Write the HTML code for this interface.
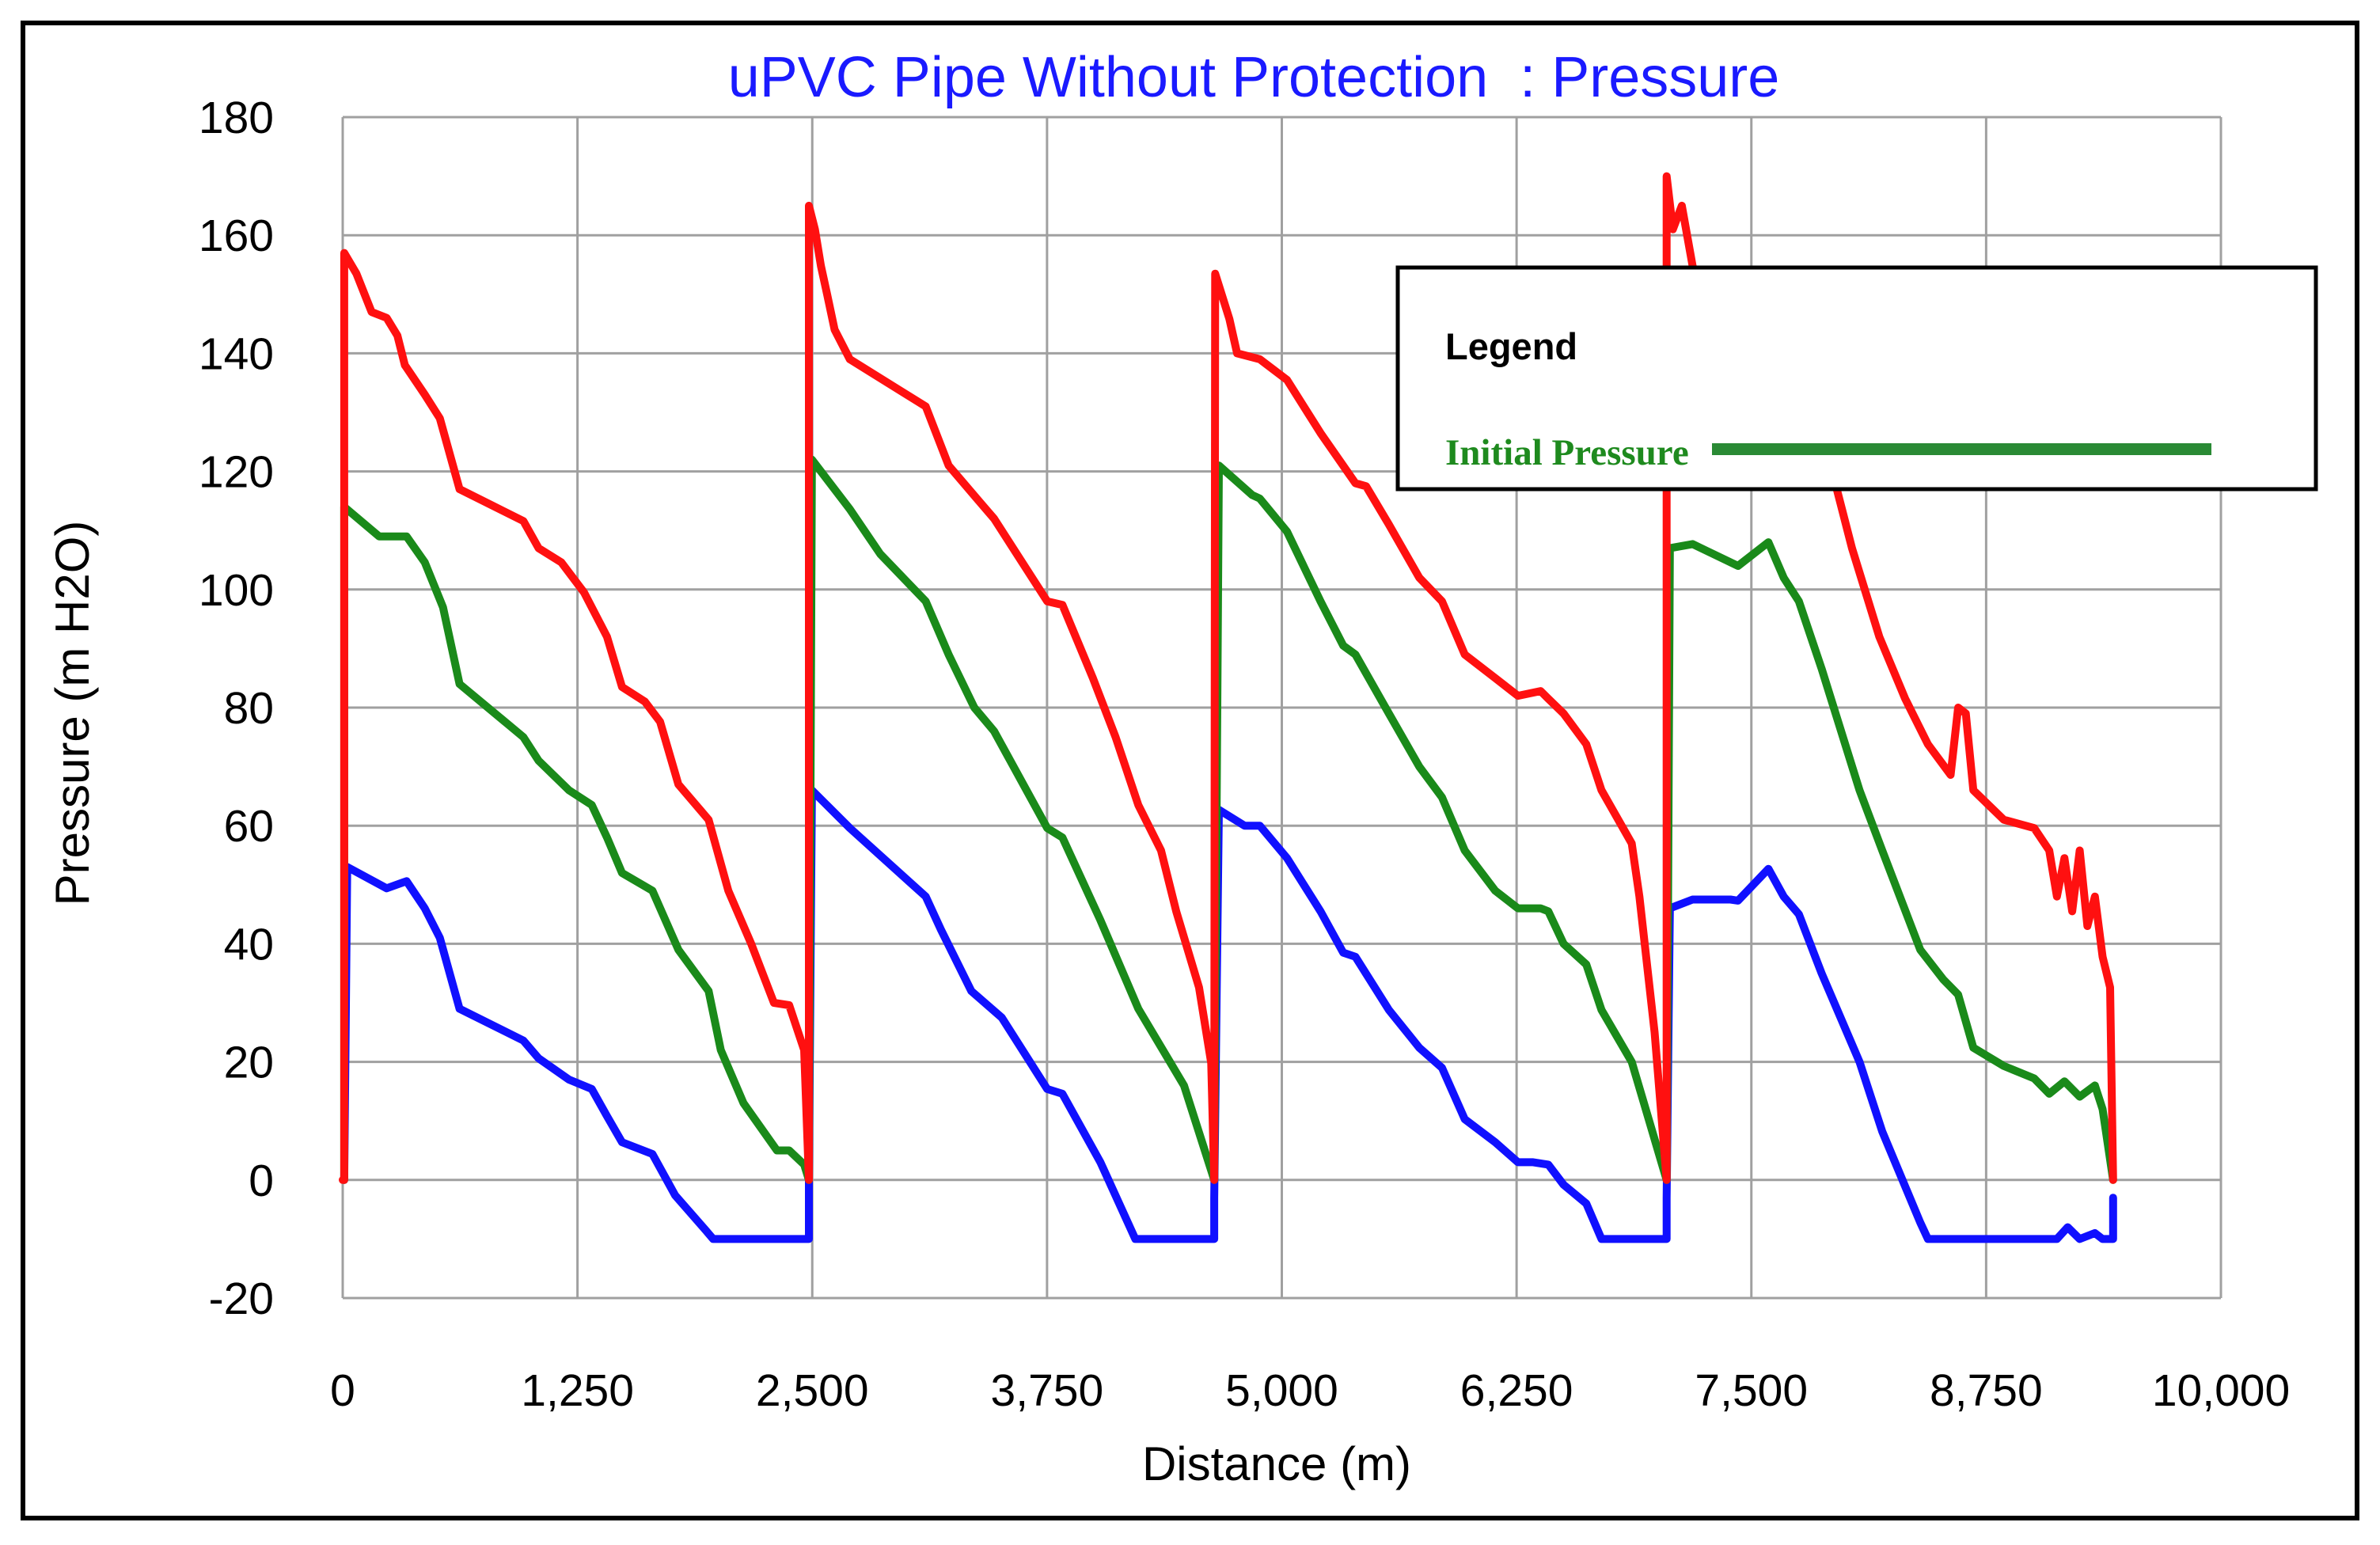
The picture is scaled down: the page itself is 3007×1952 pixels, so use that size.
<!DOCTYPE html>
<html><head><meta charset="utf-8"><style>
html,body{margin:0;padding:0;background:#fff;}
svg{display:block;}
text{font-family:"Liberation Sans",sans-serif;}
</style></head><body>
<svg id="chart" width="3007" height="1952" viewBox="0 0 3007 1952" xmlns="http://www.w3.org/2000/svg">
<rect x="29" y="29" width="2949" height="1889" fill="#fff" stroke="#000" stroke-width="6"/>
<text x="1584" y="122" text-anchor="middle" font-size="72" fill="#1a1aff" xml:space="preserve" style="white-space:pre">uPVC Pipe Without Protection  : Pressure</text>
<g id="grid"></g>
<g id="yticks"></g>
<g id="xticks"></g>
<text x="1613" y="1870" text-anchor="middle" font-size="60" fill="#000">Distance (m)</text>
<text transform="translate(112,901) rotate(-90)" text-anchor="middle" font-size="60" fill="#000">Pressure (m H2O)</text>
<g id="series"></g>
<g>
<rect x="1766" y="338" width="1160" height="280" fill="#fff" stroke="#000" stroke-width="5"/>
<text x="1826" y="454" font-size="47" font-weight="bold" fill="#000">Legend</text>
<text x="1826" y="587" font-size="47" font-weight="bold" fill="#1e8a1e" style="font-family:'Liberation Serif',serif">Initial Pressure</text>
<rect x="2163" y="560" width="631" height="15" fill="#2a8a35"/>
</g>
</svg>
<script>
const yTicks=[-20,0,20,40,60,80,100,120,140,160,180];
const xTicks=[0,1250,2500,3750,5000,6250,7500,8750,10000];
const xTickLabels=["0","1,250","2,500","3,750","5,000","6,250","7,500","8,750","10,000"];
const redDist=[0,8,8,73,154,234,291,331,437,517,622,962,1043,1164,1285,1407,1487,1609,1690,1787,1948,2053,2175,2296,2377,2457,2482,
2482,2514,2546,2579,2619,2700,3104,3226,3387,3468,3751,3832,3994,4115,4236,4357,4438,4559,4624,4640,
4645,4721,4762,4883,5028,5206,5392,5449,5570,5732,5853,5974,6136,6257,6378,6419,6500,6621,6702,6863,6904,6985,7049,
7049,7082,7130,7187,7227,7955,8036,8181,8319,8440,8561,8601,8642,8682,8763,8844,9006,9086,9127,9167,9208,9248,9289,9329,9370,9410,9426];
const redPress=[0,0,157,153.5,147,146,143,138,133,129,117,111.6,107,104.6,99.5,92,83.5,81,77.6,67,61,49,40,30,29.6,22,0,
165,161,154.8,150,144,139,131,121,115,112,98,97.4,85,75,63.5,55.8,45.5,32.6,19.8,0,
153.5,145.8,140,139,135.5,126.5,118,117.5,111,102,98,89,85,82,82.8,81.5,79,73.8,66,57,48,25,0,
170,161,165,154.8,151,117,107,92,81.5,73.8,68.6,80,79,66,63.5,61,59.6,55.8,48,54.5,45.5,55.8,43,48,37.8,32.6,0];
const greenDist=[8,8,194,340,437,534,622,962,1043,1205,1326,1407,1487,1649,1787,1948,2013,2134,2312,2377,2457,2482,
2498,2700,2862,3104,3226,3363,3468,3751,3832,4034,4236,4479,4640,
4665,4842,4883,5028,5206,5327,5392,5570,5732,5853,5974,6136,6257,6378,6419,6500,6621,6702,6863,7049,
7066,7187,7429,7591,7672,7753,7874,8076,8197,8399,8521,8601,8682,8844,9006,9086,9167,9248,9329,9370,9426];
const greenPress=[0,114,109,109,104.6,97,84,75,71,66,63.5,58,52,49,39,32,22,13,5,5,2.6,0,
122,113.6,106,98,89,80,76,59.6,58,44,29,16,0,
121,116,115.4,109.8,98,90.5,89,79,70,64.8,55.8,49,46,46,45.5,40,36.5,28.8,20,0,
107,107.7,104,108,102,98,86.6,66,55.8,39,34,31.4,22.4,19.3,17.2,14.6,16.7,14.1,16,12,0];
const blueDist=[8,24,234,340,437,517,622,962,1043,1205,1326,1407,1487,1649,1770,1932,1972,2457,2482,2482,
2498,2700,3104,3185,3347,3509,3751,3832,4034,4220,4640,4640,
4665,4802,4883,5028,5206,5327,5392,5570,5732,5853,5974,6136,6257,6338,6419,6500,6621,6702,7049,7049,
7066,7187,7389,7429,7591,7672,7753,7874,8076,8197,8399,8440,9127,9184,9248,9329,9370,9426,9426];
const bluePress=[0,53,49.4,50.6,46,41,29,23.6,20.6,17,15.4,10.8,6.4,4.4,-2.6,-8.5,-10,-10,-10,0,
66,59.6,48,42.4,32,27.5,15.4,14.6,3,-10,-10,-3,
62.7,60,60,54.5,45.5,38.5,37.8,28.8,22.4,19,10.3,6.4,3,3,2.6,-0.8,-4,-10,-10,-3,
46,47.5,47.5,47.3,52.7,48,45,35,20,8.2,-7.2,-10,-10,-8,-10,-9,-10,-10,-3];

const L=433,R=2806,T=148,B=1640;
const xs=v=>L+(v-0)/10000*(R-L);
const ys=v=>B-(v+20)/200*(B-T);
const NS="http://www.w3.org/2000/svg";
const grid=document.getElementById('grid'),yt=document.getElementById('yticks'),xt=document.getElementById('xticks'),ser=document.getElementById('series');
function mk(tag,attrs){const e=document.createElementNS(NS,tag);for(const k in attrs)e.setAttribute(k,attrs[k]);return e;}
yTicks.forEach(v=>{
  const l=mk('line',{x1:L,x2:R,y1:ys(v),y2:ys(v),stroke:'#a0a0a0','stroke-width':3});
  
  
  grid.appendChild(l);
  const t=mk('text',{x:346,y:ys(v)+20,'text-anchor':'end','font-size':57,fill:'#000'});
  t.textContent=String(v);
  
  
  yt.appendChild(t);
});
xTicks.forEach((v,i)=>{
  const l=mk('line',{x1:xs(v),x2:xs(v),y1:T,y2:B,stroke:'#a0a0a0','stroke-width':3});
  
  
  grid.appendChild(l);
  const t=mk('text',{x:xs(v),y:1776,'text-anchor':'middle','font-size':57,fill:'#000'});
  t.textContent=xTickLabels[i];
  
  
  xt.appendChild(t);
});
function line(d,p,color,name){
  const pts=d.map((x,i)=>xs(x).toFixed(1)+','+ys(p[i]).toFixed(1)).join(' ');
  const pl=mk('polyline',{points:pts,fill:'none',stroke:color,'stroke-width':10,'stroke-linejoin':'round','stroke-linecap':'round'});
  
  
  ser.appendChild(pl);
}
line(blueDist,bluePress,'#1010ff','min-pressure-line');
line(greenDist,greenPress,'#1a8a1a','initial-pressure-line');
line(redDist,redPress,'#ff1010','max-pressure-line');
</script>
</body></html>
